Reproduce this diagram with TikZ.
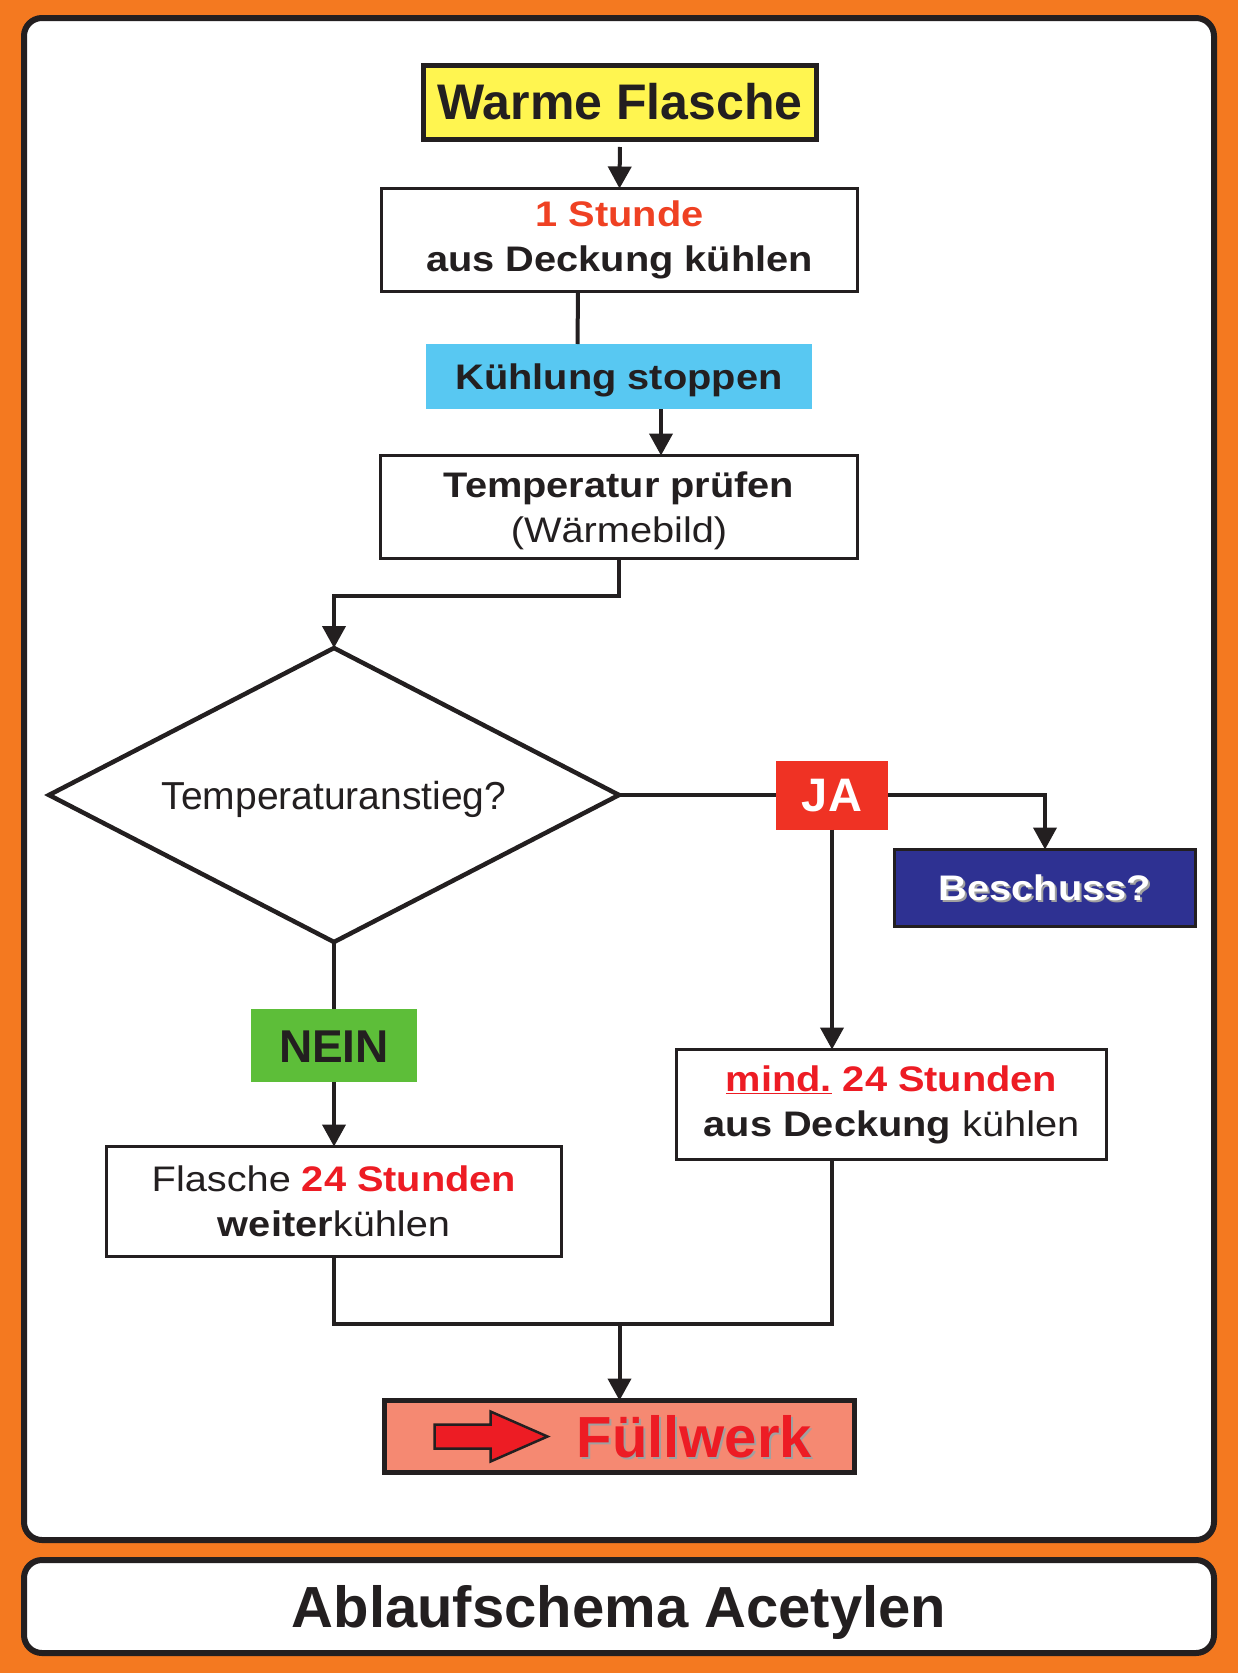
\documentclass[tikz,border=0pt]{standalone}
\usepackage{fontspec}
\setmainfont{Liberation Sans}
\newfontfamily\breitsans[FakeStretch=1.12]{Liberation Sans}
\usepackage{tikz}
\usetikzlibrary{arrows.meta}
\usetikzlibrary{shapes.geometric}
\usetikzlibrary{calc}
\usepackage{xcolor}
\definecolor{ink}{RGB}{35,31,32}
\definecolor{rahmen}{RGB}{244,121,32}
\definecolor{gelb}{RGB}{255,245,80}
\definecolor{hellblau}{RGB}{88,200,242}
\definecolor{jarot}{RGB}{239,50,36}
\definecolor{marine}{RGB}{46,49,146}
\definecolor{gruen}{RGB}{93,190,57}
\definecolor{lachs}{RGB}{245,137,114}
\definecolor{rot}{RGB}{237,28,36}
\definecolor{orot}{RGB}{239,65,35}
\definecolor{schattengrau}{RGB}{160,160,160}
\newcommand{\schatten}[1]{\leavevmode\rlap{\kern2pt\raisebox{-2pt}{\textcolor{schattengrau}{#1}}}#1}
\tikzset{
	-{Triangle[length=22pt,width=23pt]},
	every node/.style={align=center,inner sep=0pt,outer sep=0pt},
	box/.style={rectangle, draw=ink, line width=3.5pt, fill=white, font=\breitsans\fontsize{35.5}{45}\selectfont},
	tag/.style={rectangle, font=\bfseries\fontsize{46}{50}\selectfont},
	versal/.style={text height=#1, text depth=0pt},
	pfeilform/.style={fill=rot, draw=ink, line width=2.5pt, line join=miter}
}

\begin{document}
\begin{tikzpicture}[x=1pt, y=-1pt, line width=4pt, color=ink]
	% Hintergrund und Rahmen
	\useasboundingbox (0,0) rectangle (1238,1673);
	\fill[rahmen] (0,0) rectangle (1238,1673);
	\draw[line width=6pt, rounded corners=18pt, fill=white] (24,18) rectangle (1214,1540);
	
	\node (warm) [box, fill=gelb, line width=5pt, minimum width=393pt, minimum height=74pt, font=\bfseries\fontsize{50}{60}\selectfont, versal=35.8pt] at (620,102) {Warme Flasche};
	\node (stunde) [box, minimum width=476pt, minimum height=103pt] at (619.5,240) {\textcolor{orot}{\textbf{1 Stunde}}\\\textbf{aus Deckung kühlen}};
	\node (stop) [rectangle, fill=hellblau, minimum width=386pt, minimum height=65pt, font=\breitsans\bfseries\fontsize{35.5}{45}\selectfont, versal=25.5pt] at (619,376.5) {Kühlung stoppen};
	\node (temp) [box, minimum width=477pt, minimum height=103pt, text depth=0pt] at (619,507) {\textbf{Temperatur prüfen}\\(Wärmebild)};
	\node (anstieg) [diamond, draw=ink, line width=4.5pt, fill=white, shape aspect=1.94, minimum width=570pt, minimum height=294pt, font=\fontsize{39}{45}\selectfont, versal=28pt] at (334,795) {Temperaturanstieg?};
	
	% Ja-Zweig
	\node (ja) [tag, fill=jarot, text=white, minimum width=112pt, minimum height=69pt, font=\bfseries\fontsize{47}{50}\selectfont, versal=33.6pt] at (832,795) {JA};
	\node (schuss) [box, fill=marine, text=white, minimum width=301pt, minimum height=77pt, font=\breitsans\bfseries\fontsize{35.5}{45}\selectfont, versal=25.5pt] at (1045,888) {\schatten{Beschuss?}};
	\node (mind) [box, minimum width=430pt, minimum height=110pt] at (891.5,1104.5) {\textcolor{rot}{\textbf{\underline{mind.} 24 Stunden}}\\\textbf{aus Deckung} kühlen};
	
	% Nein-Zweig
	\node (nein) [tag, fill=gruen, minimum width=166pt, minimum height=73pt, versal=33pt] at (334,1045.5) {NEIN};
	\node (weiter) [box, minimum width=455pt, minimum height=110pt] at (334,1201.5) {Flasche \textcolor{rot}{\textbf{24 Stunden}}\\\textbf{weiter}kühlen};
	
	\node (fuell) [box, fill=lachs, line width=5pt, minimum width=470pt, minimum height=72pt, text width=385pt, align=right, text=rot, font=\bfseries\fontsize{58}{60}\selectfont, versal=41.5pt] at (619.5,1436.5) {\schatten{Füllwerk}};
	\draw[pfeilform] ($(fuell.west)+(50,-12)$) -- ++(56,0) -- ++(0,-13) -- ++(57,25) -- ++(-57,25) -- ++(0,-13) -- ++(-56,0) -- cycle;
	
	% Titel
	\node (titel) [rectangle, draw=ink, line width=6pt, rounded corners=18pt, fill=white, minimum width=1190pt, minimum height=93pt, font=\bfseries\fontsize{58}{60}\selectfont, versal=41.5pt] at (619,1606.5) {Ablaufschema Acetylen};
	
	% Verbindungen
	\draw[shorten <=8pt] (warm.south) -- (stunde.north);
	\draw[-] ([xshift=-41.5pt]stunde.south) -- ([xshift=-41.5pt]stop.north);
	\draw ([xshift=42pt]stop.south) -- ([xshift=42pt]temp.north);
	\draw (temp.south) -- ++(0,37) -| (anstieg.north);
	\draw[-] (anstieg.east) -- (ja.west);
	\draw (ja.east) -| (schuss.north);
	\draw (ja.south) -- (ja.south |- mind.north);
	\draw[-] (anstieg.south) -- (nein.north);
	\draw (nein.south) -- (weiter.north);
	\coordinate (knick) at ($(weiter.south)+(0,67)$);
	\draw[-] (weiter.south) -- (knick) -| (ja.south |- mind.south);
	\draw (knick -| fuell.north) -- (fuell.north);
	
\end{tikzpicture}
\end{document}
